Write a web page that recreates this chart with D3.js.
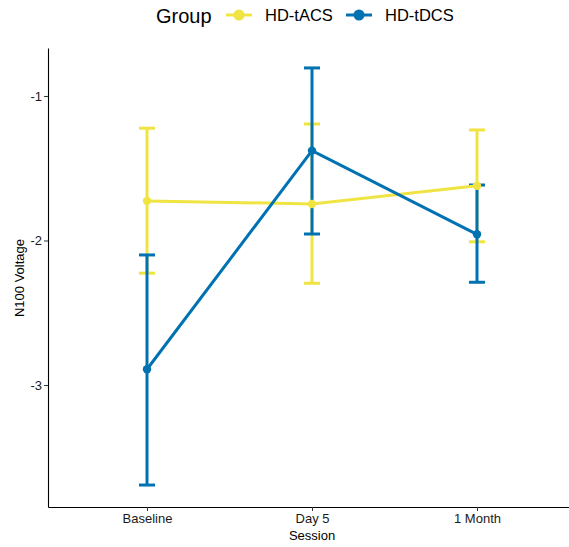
<!DOCTYPE html>
<html>
<head>
<meta charset="utf-8">
<script src="https://cdn.jsdelivr.net/npm/d3@7"></script>
<style>
  body { margin: 0; background: #fff; }
  text { font-family: "Liberation Sans", Arial, sans-serif; }
</style>
</head>
<body>
<svg width="569" height="547"></svg>
<script>
const svg = d3.select("svg")

// data
const sessions = ["Baseline", "Day 5", "1 Month"]
const groups = ["HD-tACS", "HD-tDCS"]
const colors = ["#F0E442", "#0072B2"]
const tacsMean = [-1.726, -1.747, -1.621]
const tacsUpper = [-1.223, -1.194, -1.235]
const tacsLower = [-2.226, -2.296, -2.009]
const tdcsMean = [-2.891, -1.378, -1.957]
const tdcsUpper = [-2.100, -0.806, -1.616]
const tdcsLower = [-3.692, -1.955, -2.289]
const yTicks = [-1, -2, -3]

const series = [
    {name: groups[0], color: colors[0], mean: tacsMean, up: tacsUpper, lo: tacsLower},
    {name: groups[1], color: colors[1], mean: tdcsMean, up: tdcsUpper, lo: tdcsLower}
]

const panel = {left: 48, right: 576, top: 48, bottom: 507}

const x = d3.scalePoint()
      .domain(sessions)
      .range([panel.left, panel.right])
      .padding(0.6)

const y = d3.scaleLinear()
      .domain([-0.668, -3.844])
      .range([panel.top, panel.bottom])

// axes
const yAxis = svg.append("g")
      .attr("transform", `translate(${panel.left},0)`)
      .call(d3.axisLeft(y).tickValues(yTicks).tickFormat(d => String(d)).tickSize(4).tickSizeOuter(0))
yAxis.select(".domain").attr("stroke", "#000").attr("stroke-width", 1.1)
yAxis.selectAll(".tick line").attr("stroke", "#333")
yAxis.selectAll(".tick text").attr("font-size", 13).attr("fill", "#1a1a1a").attr("x", -6)

const xAxis = svg.append("g")
      .attr("transform", `translate(0,${panel.bottom})`)
      .call(d3.axisBottom(x).tickSize(4).tickSizeOuter(0))
xAxis.select(".domain").attr("stroke", "#000").attr("stroke-width", 1.1)
xAxis.selectAll(".tick line").attr("stroke", "#333")
xAxis.selectAll(".tick text").attr("font-size", 13).attr("fill", "#1a1a1a").attr("dy", "0.72em")

svg.append("text")
    .attr("x", 312).attr("y", 540)
    .attr("text-anchor", "middle")
    .attr("font-size", 13)
    .text("Session")

svg.append("text")
    .attr("transform", "translate(24,278) rotate(-90)")
    .attr("text-anchor", "middle")
    .attr("font-size", 13)
    .text("N100 Voltage")

// error bars, lines, points
const capW = 8
series.forEach(s => {
    const g = svg.append("g")
    sessions.forEach((c, i) => {
        const cx = x(c)
        g.append("line")
            .attr("x1", cx).attr("x2", cx)
            .attr("y1", y(s.up[i])).attr("y2", y(s.lo[i]))
            .attr("stroke", s.color).attr("stroke-width", 3)
        ;[s.up[i], s.lo[i]].forEach(v => {
            g.append("line")
                .attr("x1", cx - capW).attr("x2", cx + capW)
                .attr("y1", y(v)).attr("y2", y(v))
                .attr("stroke", s.color).attr("stroke-width", 3)
        })
    })
})

series.forEach(s => {
    svg.append("path")
        .datum(sessions)
        .attr("fill", "none")
        .attr("stroke", s.color)
        .attr("stroke-width", 3)
        .attr("d", d3.line().x(c => x(c)).y((c, i) => y(s.mean[i])))
    svg.selectAll(null)
        .data(sessions)
        .enter().append("circle")
        .attr("cx", c => x(c))
        .attr("cy", (c, i) => y(s.mean[i]))
        .attr("r", 4.2)
        .attr("fill", s.color)
})

// legend
const legend = svg.append("g")
legend.append("text")
    .attr("x", 156).attr("y", 23)
    .attr("font-size", 20)
    .text("Group")
const keyX = [226, 346]
series.forEach((s, i) => {
    legend.append("line")
        .attr("x1", keyX[i]).attr("x2", keyX[i] + 26)
        .attr("y1", 15).attr("y2", 15)
        .attr("stroke", s.color).attr("stroke-width", 3)
    legend.append("circle")
        .attr("cx", keyX[i] + 13).attr("cy", 15).attr("r", 5.5)
        .attr("fill", s.color)
    legend.append("text")
        .attr("x", keyX[i] + 39).attr("y", 21)
        .attr("font-size", 16.5)
        .text(s.name)
})
</script>
</body>
</html>
